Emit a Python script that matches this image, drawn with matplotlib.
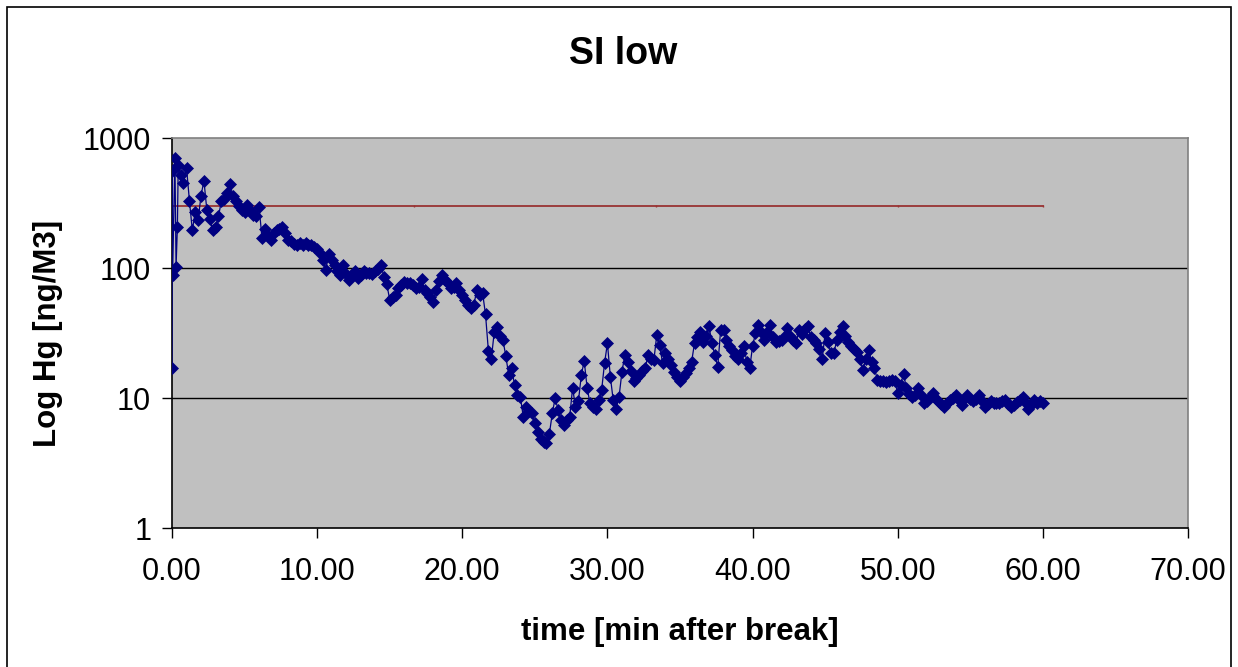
import matplotlib
matplotlib.use("Agg")
import matplotlib.pyplot as plt
from matplotlib.ticker import FixedLocator, FuncFormatter, NullLocator
from matplotlib.patches import Rectangle

plt.rcParams['font.family'] = ['Liberation Sans', 'DejaVu Sans']

# ---- data ----
t_early = [0.0, 0.02, 0.04, 0.2, 0.28, 0.37, 0.43, 0.6, 0.78]
hg_early = [17, 560, 88, 700, 102, 205, 625, 520, 450]

t_start, t_step = 1.0, 0.2
hg_main = [
    590, 330, 195, 270, 235, 360, 470, 280, 240, 195,
    205, 250, 325, 340, 380, 445, 360, 330, 300, 280,
    270, 305, 280, 255, 250, 295, 170, 200, 175, 165,
    185, 195, 200, 207, 185, 165, 160, 152, 150, 155,
    150, 155, 150, 150, 146, 140, 130, 115, 97, 128,
    115, 105, 95, 88, 105, 90, 81, 88, 94, 84,
    88, 94, 92, 91, 90, 94, 98, 105, 86, 75,
    57, 60, 62, 70, 74, 78, 76, 77, 74, 70,
    72, 82, 68, 64, 60, 55, 68, 80, 88, 81,
    76, 70, 72, 76, 68, 62, 57, 52, 49, 52,
    68, 62, 64, 44, 23, 20, 32, 35, 30, 28,
    21, 15, 17, 12.6, 10.5, 10.2, 7.2, 8.6, 8.0, 7.6,
    6.4, 5.5, 4.8, 4.6, 4.5, 5.3, 7.6, 10.0, 8.1, 6.8,
    6.2, 6.8, 7.2, 11.9, 8.6, 9.4, 15, 19.3, 12, 9.1,
    8.6, 8.3, 9.6, 11.5, 18.5, 26.4, 14.6, 9.6, 8.3, 10.2,
    15.9, 21.4, 19, 16, 13.4, 14.2, 15, 16.2, 16.9, 21.4,
    20, 19.6, 30.6, 25.5, 18.5, 22, 20, 18, 15.9, 14.5,
    13.4, 14.5, 15.5, 17, 19, 26.4, 29.5, 32.4, 27, 30,
    35.5, 26.4, 21.4, 17.4, 33.3, 33.3, 28, 25, 23.4, 21,
    20, 22, 25, 19, 16.9, 25, 31.5, 36.3, 32, 28,
    32, 36.3, 29.5, 27, 27.5, 28, 30, 34.3, 30, 28,
    26.4, 33.3, 31, 34, 35.5, 29.5, 28, 26.4, 24, 20,
    31.5, 27, 22, 22, 28, 32.4, 35.5, 30, 27, 25,
    24, 22.7, 20, 16.4, 20, 23.4, 19, 16.9, 13.8, 13.4,
    13.4, 13.2, 13.4, 13.8, 13.4, 10.9, 12.6, 15.4, 11.9, 10.8,
    10.2, 10.5, 11.9, 10.5, 9.1, 9.5, 10.2, 10.9, 10.0, 9.4,
    9.0, 8.6, 9.2, 9.6, 10.0, 10.5, 9.6, 8.8, 9.8, 10.5,
    9.8, 9.4, 9.9, 10.5, 9.4, 8.6, 9.0, 9.4, 9.2, 9.1,
    9.1, 9.4, 9.6, 9.0, 8.6, 8.9, 9.3, 9.6, 10.2, 9.3,
    8.3, 8.8, 9.6, 9.2, 9.4, 9.1,
]
t_main = [round(t_start + i * t_step, 2) for i in range(len(hg_main))]

time = t_early + t_main
hg = hg_early + hg_main

limit_t = [0.0, 16.67, 33.33, 50.0, 60.0]
limit_v = [300, 300, 300, 300, 300]

x_ticks = [0, 10, 20, 30, 40, 50, 60, 70]
y_ticks = [1, 10, 100, 1000]

# ---- figure ----
W, H = 1238, 667
fig = plt.figure(figsize=(W / 100, H / 100), dpi=100)
fig.patch.set_facecolor('white')
fig.add_artist(Rectangle((7 / W, -0.05), (1231 - 7) / W, 1 - 7 / H + 0.05,
                         transform=fig.transFigure, fill=False,
                         edgecolor='black', linewidth=1.2))

ax = fig.add_axes([172 / W, 1 - 528 / H, (1188 - 172) / W, (528 - 138) / H])
ax.set_facecolor('#C0C0C0')

ax.set_yscale('log')
ax.set_xlim(0, 70)
ax.set_ylim(1, 1000)

for v in [10, 100]:
    ax.axhline(v, color='black', linewidth=1.0, zorder=1)

ax.plot(limit_t, limit_v, color='#993333', linewidth=1.3, marker='|',
        markersize=2, zorder=2)
ax.plot(time, hg, color='#000080', linewidth=0.9, marker='D', markersize=5.8,
        markeredgewidth=0.5, markerfacecolor='#000080', markeredgecolor='#000080',
        zorder=3)

ax.xaxis.set_major_locator(FixedLocator(x_ticks))
ax.xaxis.set_major_formatter(FuncFormatter(lambda v, p: f"{v:.2f}"))
ax.yaxis.set_major_locator(FixedLocator(y_ticks))
ax.yaxis.set_major_formatter(FuncFormatter(lambda v, p: f"{int(round(v))}"))
ax.yaxis.set_minor_locator(NullLocator())
ax.xaxis.set_minor_locator(NullLocator())

ax.tick_params(axis='both', which='major', direction='out', length=7, width=1,
               labelsize=22, colors='black')
ax.tick_params(axis='x', pad=14)
ax.tick_params(axis='y', pad=8)

ax.spines['left'].set_color('black')
ax.spines['bottom'].set_color('black')
ax.spines['top'].set_color('#808080')
ax.spines['right'].set_color('#808080')
for s in ax.spines.values():
    s.set_linewidth(1.2)

ax.set_xlabel('time [min after break]', fontsize=22.5, fontweight='bold')
ax.set_ylabel('Log Hg [ng/M3]', fontsize=22.5, fontweight='bold')
ax.xaxis.label.set_verticalalignment('center')
ax.yaxis.label.set_verticalalignment('center')
ax.xaxis.set_label_coords(0.5, (528 - 632) / 390)
ax.yaxis.set_label_coords((48 - 172) / 1016, 0.5)

fig.text(623 / W, 1 - 54 / H, 'SI low', ha='center', va='center',
         fontsize=27, fontweight='bold')

fig.savefig('out.png', dpi=100)
